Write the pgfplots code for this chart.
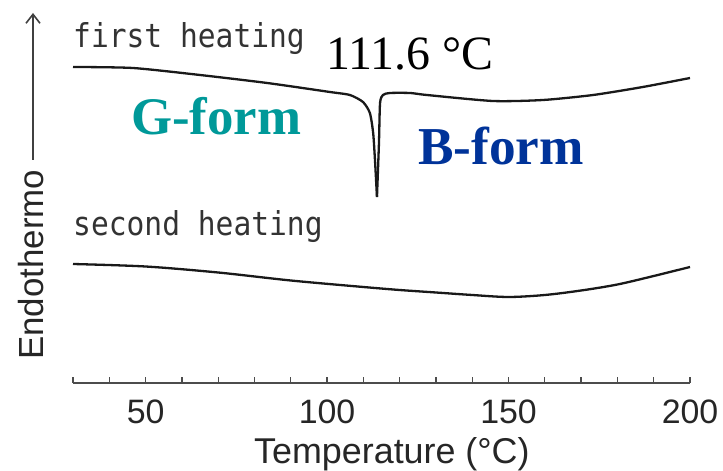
\documentclass[border=0pt]{standalone}
\usepackage{fontspec}
\setmainfont{Liberation Sans}
\newfontfamily\timesf{Liberation Serif}
\newfontfamily\monof[FakeStretch=0.9]{DejaVu Sans Mono}
\usepackage{pgfplots}
\pgfplotsset{compat=1.18}
\usetikzlibrary{arrows.meta}
\definecolor{gteal}{RGB}{0,153,153}
\definecolor{bblue}{RGB}{0,51,153}
\begin{document}
\begin{tikzpicture}
\path (0,0) rectangle (723bp,471bp);
\begin{axis}[
 at={(73bp,88bp)}, anchor=south west, scale only axis, width=617bp, height=383bp,
 xmin=30, xmax=200, ymin=0, ymax=383,
 axis x line=bottom, axis y line=none,
 x axis line style={-, line width=2.6bp, black!70},
 xtick={50,100,150,200}, minor xtick={30,40,...,200},
 tick align=inside, major tick length=6bp, minor tick length=6bp,
 every tick/.append style={black!70, line width=1.3bp},
 xticklabel style={font=\fontsize{34}{34}\selectfont, text=black!85, anchor=base, inner sep=0pt, yshift=-40bp},
 /pgf/number format/assume math mode=true,
 clip=false,
]
% first heating, left part down to the dip
\addplot[line width=2.3bp, black!90, smooth, tension=0.4] coordinates {
 (30,316) (46.5,315) (65,308) (83.5,300) (100.8,291) (106.3,288) (109.9,281)
 (111.8,270) (112.7,250) (113.2,223) (113.75,186)};
% first heating, right part
\addplot[line width=2.3bp, black!90, smooth, tension=0.4] coordinates {
 (113.75,186) (114.3,240) (114.6,280) (115.4,288) (117.3,290) (122.9,290)
 (127.5,288) (145.7,282) (159.5,283) (173.3,288) (187,296) (200,305)};
% second heating
\addplot[line width=2.3bp, black!90, smooth] coordinates {
 (30,119) (50,116.5) (70,110.5) (90,102.5) (110,96) (120,93) (130,90.5)
 (140,88) (150,86) (160,88) (170,92.5) (180,98.5) (190,107) (200,116)};
\end{axis}
% y label with arrow
\node[rotate=90, anchor=base west, inner sep=0pt, text=black!85, font=\fontsize{35}{35}\selectfont] at (43bp,111bp) {Endothermo};
\draw[black!75, line width=1.6bp, -{Straight Barb[length=9bp,width=14bp]}] (33bp,311bp) -- (33bp,458bp);
% x label
\node[anchor=base west, inner sep=0pt, text=black!85, font=\fontsize{36}{36}\selectfont] at (254bp,7.5bp) {Temperature (°C)};
% curve names
\node[anchor=base west, inner sep=0pt, text=black!80, font=\monof\fontsize{33}{33}\selectfont] at (73bp,423bp) {first heating};
\node[anchor=base west, inner sep=0pt, text=black!80, font=\monof\fontsize{33}{33}\selectfont] at (73bp,235bp) {second heating};
% annotations
\node[anchor=base west, inner sep=0pt, font=\timesf\fontsize{48}{48}\selectfont] at (326bp,401bp) {111.6 °C};
\node[anchor=base west, inner sep=0pt, text=gteal, font=\timesf\bfseries\fontsize{53}{53}\selectfont] at (131bp,336bp) {G-form};
\node[anchor=base west, inner sep=0pt, text=bblue, font=\timesf\bfseries\fontsize{53.5}{53.5}\selectfont] at (418bp,306bp) {B-form};
\end{tikzpicture}
\end{document}
